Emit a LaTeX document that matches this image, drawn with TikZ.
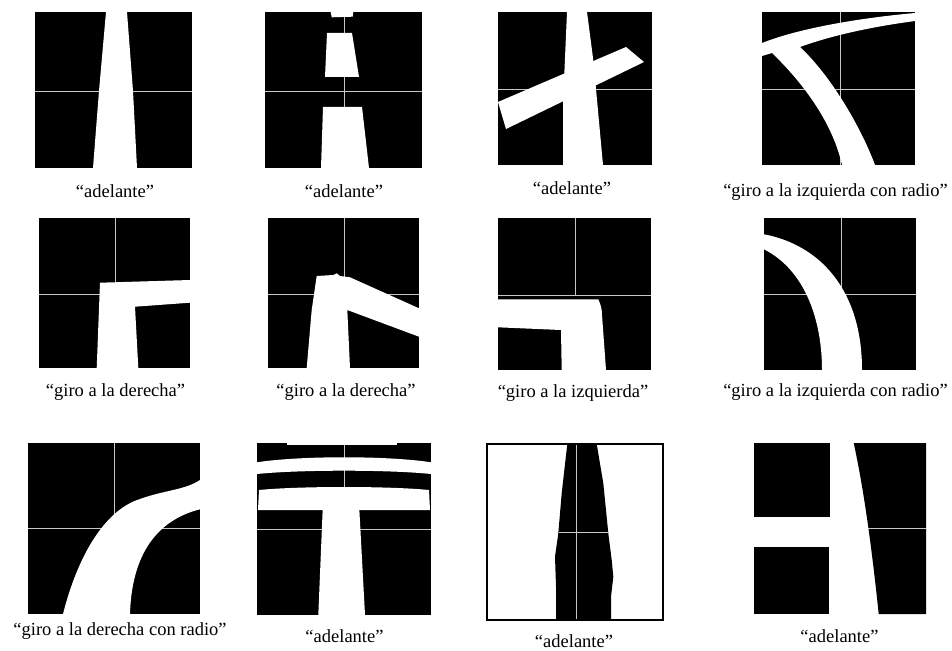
\documentclass[tikz,border=0pt]{standalone}
\usepackage{fontspec}
\setmainfont{Liberation Serif}
\definecolor{gridgray}{gray}{0.78}
\begin{document}
\begin{tikzpicture}[x=1pt,y=-1pt,
  panelbg/.style={fill=black},
  roadfill/.style={fill=white},
  gridline/.style={draw=gridgray,line width=0.9pt},
  lbl/.style={font=\fontsize{18.5}{20}\selectfont, inner sep=0pt, anchor=base}]
\useasboundingbox (0,0) rectangle (952,650);

% ---- Panel 1
\fill[panelbg] (35,12) rectangle (192,168);
\draw[gridline] (35,91) -- (192,91);
\fill[roadfill] (106,12) -- (127,12) -- (133,91) -- (137,168) -- (93,168) -- (99,91) -- cycle;
\node[lbl] (l1) at (115,197) {“adelante”};

% ---- Panel 2
\fill[panelbg] (265,12) rectangle (422,168);
\draw[gridline] (265,91) -- (422,91);
\draw[gridline] (344,12) -- (344,168);
\fill[roadfill] (330.7,12) -- (353.3,12) -- (352.7,16.7) -- (331.7,17.3) -- cycle;
\fill[roadfill] (327,33) -- (352,33) -- (359,77) -- (325,77) -- cycle;
\fill[roadfill] (323,107) -- (362,107) -- (369,168) -- (321,168) -- cycle;
\node[lbl] (l2) at (344,197) {“adelante”};

% ---- Panel 3
\fill[panelbg] (498,12) rectangle (652,165);
\draw[gridline] (498,89) -- (652,89);
\fill[roadfill] (567,12) -- (587,12) -- (593,58) -- (596,89) -- (603,165) -- (563,165) -- (563,104) -- cycle;
\fill[roadfill] (498,102) -- (626,47) -- (644,62) -- (506,129) -- cycle;
\node[lbl] (l3) at (572,194) {“adelante”};

% ---- Panel 4
\fill[panelbg] (762,12) rectangle (915,165);
\draw[gridline] (762,89) -- (915,89);
\draw[gridline] (840,12) -- (840,165);
\fill[roadfill] (762,43) .. controls (800,28) and (860,18) .. (915,13) -- (915,21)
  .. controls (870,27) and (830,36) .. (800,47)
  .. controls (830,75) and (860,125) .. (875,165) -- (842,165)
  .. controls (832,120) and (800,80) .. (772,53) -- (762,56) -- cycle;
\node[lbl] (l4) at (835.5,196) {“giro a la izquierda con radio”};

% ---- Panel 5
\fill[panelbg] (39,218) rectangle (190,368);
\draw[gridline] (39,294) -- (190,294);
\draw[gridline] (115,218) -- (115,368);
\fill[roadfill] (100,282.7) -- (190,280) -- (190,302.7) -- (135,306.7) -- (138.3,368) -- (96.7,368) -- cycle;
\node[lbl] (l5) at (115.5,396) {“giro a la derecha”};

% ---- Panel 6
\fill[panelbg] (268,218) rectangle (419,368);
\draw[gridline] (268,294) -- (419,294);
\draw[gridline] (344,218) -- (344,368);
\fill[roadfill] (306.7,368) -- (311.7,310) -- (316.7,276) -- (333.3,275) -- (336.7,273.3) -- (340,276)
  -- (350,277.3) -- (419,308.3) -- (419,336.7) -- (347.3,310) -- (350,368) -- cycle;
\node[lbl] (l6) at (346,396) {“giro a la derecha”};

% ---- Panel 7
\fill[panelbg] (498,218) rectangle (651,370);
\draw[gridline] (498,295) -- (651,295);
\draw[gridline] (575,218) -- (575,295);
\fill[roadfill] (498,299.3) -- (598.3,299.3) .. controls (601,305) and (602,310) .. (602,315)
  -- (606,370) -- (561.7,370) -- (561,330) -- (498,327.3) -- cycle;
\node[lbl] (l7) at (573,397) {“giro a la izquierda”};

% ---- Panel 8
\fill[panelbg] (764,218) rectangle (916,370);
\draw[gridline] (764,294) -- (916,294);
\draw[gridline] (841,218) -- (841,370);
\fill[roadfill] (764,234.3) .. controls (820,245) and (862,290) .. (862,370) -- (822,370)
  .. controls (822,320) and (805,270) .. (764,249.3) -- cycle;
\node[lbl] (l8) at (835.5,396) {“giro a la izquierda con radio”};

% ---- Panel 9
\fill[panelbg] (28,443) rectangle (200,614);
\draw[gridline] (28,528) -- (200,528);
\draw[gridline] (114,443) -- (114,614);
\fill[roadfill] (63,614) .. controls (78,555) and (105,510) .. (140,499)
  .. controls (165,490) and (185,490) .. (200,480) -- (200,509.3)
  .. controls (165,518) and (132,545) .. (130,614) -- cycle;
\node[lbl] (l9) at (120,635) {“giro a la derecha con radio”};

% ---- Panel 10
\fill[panelbg] (257,443) rectangle (431,615);
\draw[gridline] (257,529) -- (431,529);
\draw[gridline] (344,443) -- (344,615);
\fill[roadfill] (286.7,443) rectangle (396.7,445);
\fill[roadfill] (257,462.3) .. controls (300,455.6) and (388,455.6) .. (431,462.3) -- (431,474)
  .. controls (388,469.6) and (300,469.6) .. (257,474) -- cycle;
\fill[roadfill] (259,490) .. controls (300,486) and (388,486) .. (429,490) -- (430,510) -- (258,510) -- cycle;
\fill[roadfill] (322.7,509) -- (359.3,509) -- (365,615) -- (318.3,615) -- cycle;
\node[lbl] (l10) at (344.5,642.5) {“adelante”};

% ---- Panel 11
\fill[white] (487,444) rectangle (663,620);
\fill[black] (567.3,444) -- (561.7,493.3) -- (558.3,533.3) -- (555,556.7) -- (556,586.7) -- (556,620)
  -- (611,620) -- (611,596.7) -- (613.3,576.7) -- (611.7,560) -- (608.3,533.3) -- (603.3,483.3) -- (596.7,444) -- cycle;
\draw[gridline] (576,444) -- (576,620);
\draw[gridline] (558.5,532.7) -- (608,532.7);
\draw[black,line width=1.5pt] (487,444) rectangle (663,620);
\node[lbl] (l11) at (574,647) {“adelante”};

% ---- Panel 12
\fill[black] (754,443) rectangle (830.3,516.7);
\fill[black] (754,546.7) rectangle (829.3,614);
\fill[black] (853.7,443) .. controls (864,490) and (872,550) .. (878.7,614) -- (926,614) -- (926,443) -- cycle;
\draw[gridline] (868,528) -- (926,528);
\node[lbl] (l12) at (839.5,642.5) {“adelante”};
\end{tikzpicture}
\end{document}
